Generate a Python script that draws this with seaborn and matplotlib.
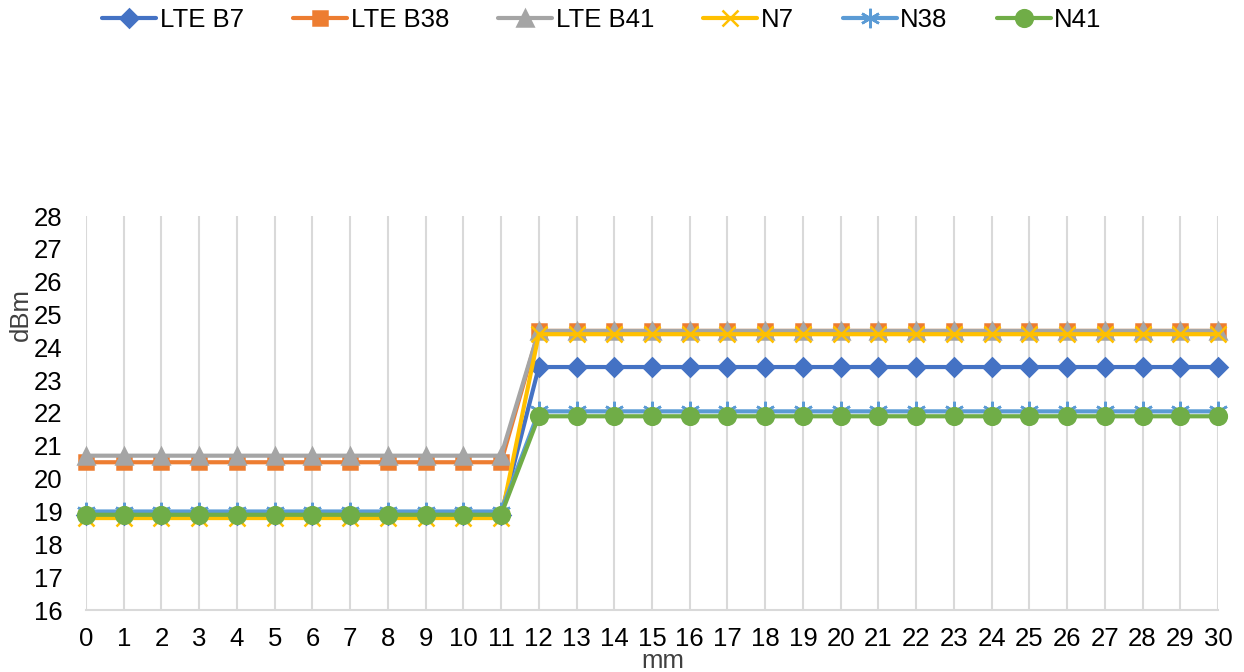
import numpy as np
import pandas as pd
import matplotlib
matplotlib.use("Agg")
import matplotlib.pyplot as plt
import seaborn as sns

# distance in mm
mm = list(range(0, 31))

# power values (dBm), flat before 12 mm and after
lte_b7 = [18.9] * 12 + [23.4] * 19
lte_b38 = [20.5] * 12 + [24.5] * 19
lte_b41 = [20.7] * 12 + [24.5] * 19
n7 = [18.8] * 12 + [24.4] * 19
n38 = [19.0] * 12 + [22.05] * 19
n41 = [18.9] * 12 + [21.9] * 19

series_names = ["LTE B7", "LTE B38", "LTE B41", "N7", "N38", "N41"]
series_values = [lte_b7, lte_b38, lte_b41, n7, n38, n41]

colors = ["#4472C4", "#ED7D31", "#A5A5A5", "#FFC000", "#5B9BD5", "#70AD47"]
markers = ["D", "s", "^", "x", (6, 2, 0), "o"]
msizes = [9, 10, 11, 11, 14, 12]

sns.set_style("white")
plt.rcParams["font.family"] = ["Liberation Sans", "DejaVu Sans"]

fig = plt.figure(figsize=(12.44, 6.72), dpi=100)
ax = fig.add_axes([86 / 1244, 62 / 672, 1132 / 1244, 394 / 672])

for name, vals, c, m, ms in zip(series_names, series_values, colors, markers, msizes):
    df = pd.DataFrame({"mm": mm, "dBm": vals})
    sns.lineplot(data=df, x="mm", y="dBm", ax=ax, color=c, linewidth=3,
                 marker=m, markersize=ms, markeredgecolor=c, markerfacecolor=c,
                 markeredgewidth=1.8, label=name, clip_on=False)

ax.set_xlim(0, 30)
ax.set_ylim(16, 28)
ax.set_xticks(mm)
ax.set_yticks(range(16, 29))
ax.tick_params(axis="both", labelsize=18.5, length=0, colors="black")
ax.tick_params(axis="x", pad=12)
ax.tick_params(axis="y", pad=17)

ax.xaxis.grid(True, color="#D9D9D9", linewidth=1.5)
ax.yaxis.grid(False)
for s in ["top", "right"]:
    ax.spines[s].set_visible(False)
ax.spines["left"].set_visible(False)
ax.spines["bottom"].set_color("#D9D9D9")
ax.spines["bottom"].set_linewidth(1.5)

ax.set_xlabel("mm", fontsize=18.5, color="#404040")
ax.set_ylabel("dBm", fontsize=18.5, color="#404040")
ax.xaxis.set_label_coords(0.51, -0.1)
ax.yaxis.set_label_coords(-0.047, 0.75)

ax.legend(loc="center", bbox_to_anchor=(602 / 1244, 1 - 20 / 672), bbox_transform=fig.transFigure,
          ncol=6, frameon=False, fontsize=18.5, handlelength=2.1, handletextpad=0.15,
          columnspacing=1.9, labelcolor="black")

fig.savefig("out.png", dpi=100)
